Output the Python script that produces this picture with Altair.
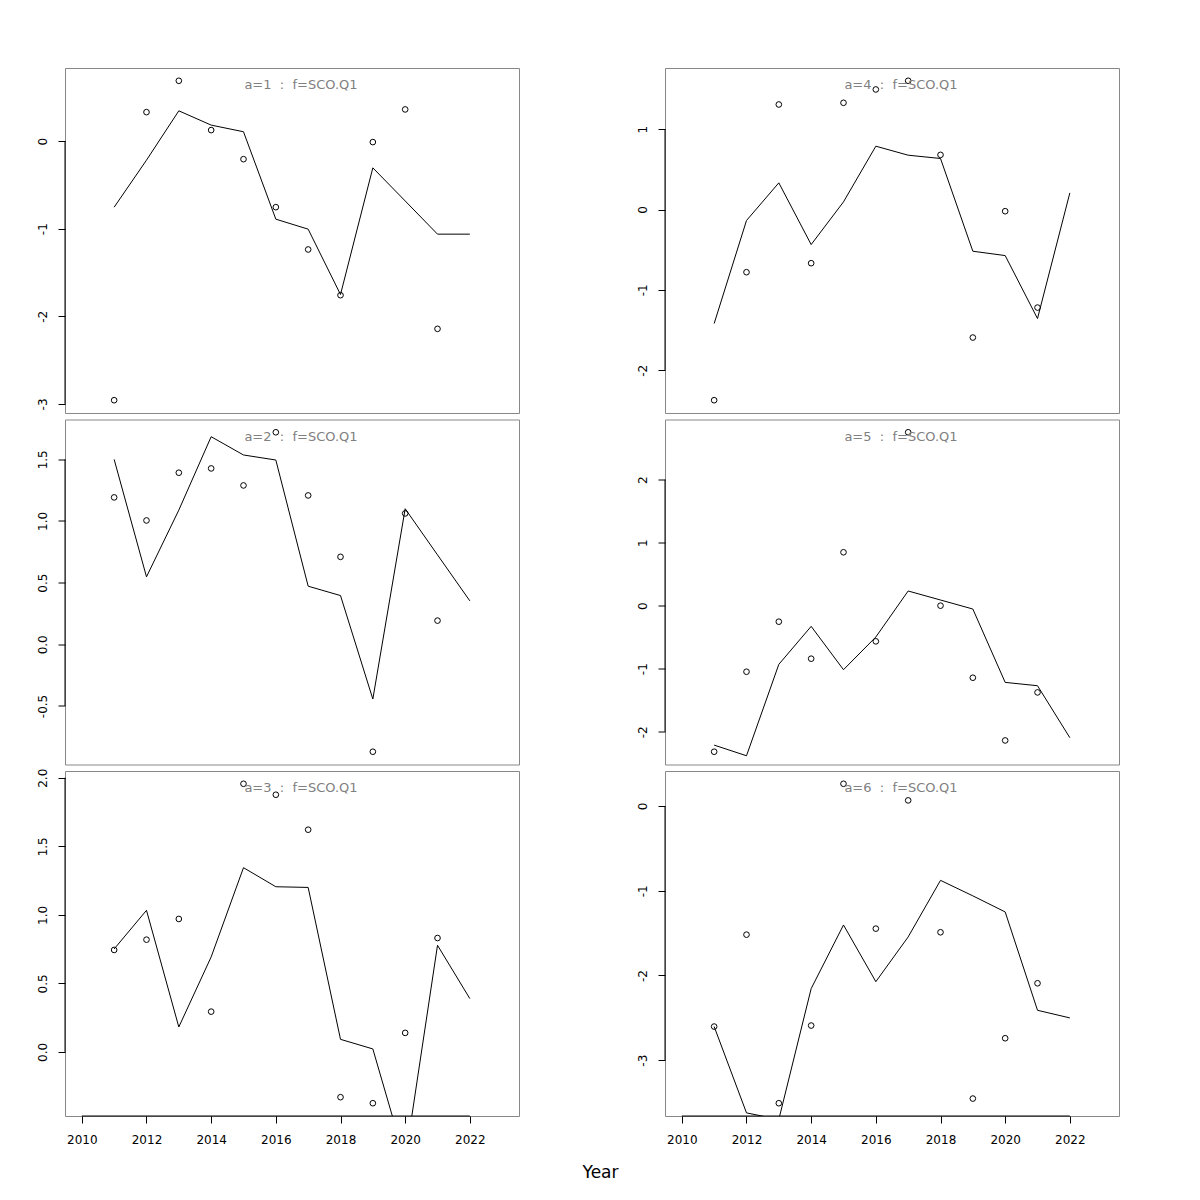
import altair as alt
import pandas as pd

# ---------------- data ----------------
years_obs = [2011, 2012, 2013, 2014, 2015, 2016, 2017, 2018, 2019, 2020, 2021]
years_fit = [2011, 2012, 2013, 2014, 2015, 2016, 2017, 2018, 2019, 2020, 2021, 2022]

obs_a1 = [-2.958, 0.331, 0.689, 0.126, -0.206, -0.754, -1.237, -1.759, -0.011, 0.362, -2.143]
fit_a1 = [-0.754, -0.217, 0.346, 0.183, 0.107, -0.891, -1.005, -1.751, -0.305, -0.683, -1.062, -1.062]

obs_a2 = [1.191, 1.004, 1.391, 1.426, 1.288, 1.719, 1.207, 0.709, -0.871, 1.061, 0.192]
fit_a2 = [1.499, 0.547, 1.088, 1.683, 1.535, 1.494, 0.471, 0.395, -0.444, 1.099, 0.725, 0.352]

obs_a3 = [0.744, 0.819, 0.970, 0.294, 1.956, 1.876, 1.621, -0.330, -0.374, 0.139, 0.831]
fit_a3 = [0.751, 1.033, 0.182, 0.693, 1.344, 1.205, 1.200, 0.092, 0.022, -0.790, 0.778, 0.389]

obs_a4 = [-2.373, -0.780, 1.307, -0.668, 1.328, 1.494, 1.602, 0.680, -1.593, -0.021, -1.220]
fit_a4 = [-1.419, -0.137, 0.332, -0.436, 0.095, 0.788, 0.676, 0.635, -0.519, -0.573, -1.357, 0.207]

obs_a5 = [-2.317, -1.048, -0.254, -0.841, 0.847, -0.566, 2.751, 0.000, -1.143, -2.138, -1.376]
fit_a5 = [-2.212, -2.381, -0.931, -0.328, -1.016, -0.497, 0.233, 0.090, -0.053, -1.217, -1.270, -2.095]

obs_a6 = [-2.603, -1.518, -3.508, -2.591, 0.263, -1.447, 0.067, -1.490, -3.453, -2.741, -2.092]
fit_a6 = [-2.603, -3.622, -3.700, -2.155, -1.404, -2.073, -1.545, -0.877, -1.060, -1.250, -2.411, -2.501]

ticks_a1 = [-3, -2, -1, 0]
ticks_a2 = [-0.5, 0.0, 0.5, 1.0, 1.5]
ticks_a3 = [0.0, 0.5, 1.0, 1.5, 2.0]
ticks_a4 = [-2, -1, 0, 1]
ticks_a5 = [-2, -1, 0, 1, 2]
ticks_a6 = [-3, -2, -1, 0]

x_ticks = [2010, 2012, 2014, 2016, 2018, 2020, 2022]
fleet = "SCO.Q1"
x_label = "Year"

# ---------------- layout / style ----------------
W, H = 454, 345
FONT = "DejaVu Sans"
XDOM = [2009.48, 2023.52]


def panel(a, obs, fit, ticks, decimals, bottom):
    lo, hi = min(obs), max(obs)
    ext = (hi - lo) * 0.04
    ydom = [lo - ext, hi + ext]
    fmt = ".1f" if decimals else "d"
    yscale = alt.Scale(domain=ydom, nice=False, zero=False)
    yaxis = alt.Axis(
        values=ticks, labelExpr=f"replace(format(datum.value, '{fmt}'), '\u2212', '-')",
        labelAngle=270, labelAlign="center", labelBaseline="bottom",
        labelPadding=9, tickSize=7, tickColor="black", labelColor="black",
        labelFont=FONT, labelFontSize=12, domain=False, grid=False, title=None,
        labelOverlap=False, labelFlush=False,
    )
    xscale = alt.Scale(domain=XDOM, nice=False, zero=False)
    if bottom:
        xaxis = alt.Axis(
            values=x_ticks, format="d", tickSize=7, tickColor="black", labelColor="black",
            labelPadding=11, labelFont=FONT, labelFontSize=12, domain=False, grid=False,
            title=None, labelOverlap=False, labelFlush=False,
        )
    else:
        xaxis = None

    df_obs = pd.DataFrame({"year": years_obs, "value": obs})
    df_fit = pd.DataFrame({"year": years_fit, "value": fit})
    one = pd.DataFrame({"label": [f"a={a}\u00a0\u00a0:\u00a0\u00a0f={fleet}"]})

    pts = alt.Chart(df_obs).mark_point(
        shape="circle", filled=False, color="black", size=32, strokeWidth=1, opacity=1
    ).encode(
        x=alt.X("year:Q", scale=xscale, axis=xaxis),
        y=alt.Y("value:Q", scale=yscale, axis=yaxis),
    )
    line = alt.Chart(df_fit).mark_line(color="black", strokeWidth=1, clip=True).encode(
        x=alt.X("year:Q", scale=xscale, axis=xaxis),
        y=alt.Y("value:Q", scale=yscale, axis=yaxis),
    )
    txt = alt.Chart(one).mark_text(
        font=FONT, fontSize=13, color="#808080", align="center", baseline="alphabetic"
    ).encode(x=alt.value(236), y=alt.value(21), text="label:N")
    yline = alt.Chart(one).mark_rule(color="black", strokeWidth=1).encode(
        x=alt.value(0),
        y=alt.YDatum(ticks[0], scale=yscale, axis=yaxis),
        y2=alt.Y2Datum(ticks[-1]),
    )
    layers = [pts, line, yline, txt]
    if bottom:
        xline = alt.Chart(one).mark_rule(color="black", strokeWidth=1).encode(
            x=alt.XDatum(x_ticks[0], scale=xscale, axis=xaxis),
            x2=alt.X2Datum(x_ticks[-1]),
            y=alt.value(H),
        )
        layers.append(xline)
    return alt.layer(*layers).properties(width=W, height=H)


left = alt.vconcat(
    panel(1, obs_a1, fit_a1, ticks_a1, False, False),
    panel(2, obs_a2, fit_a2, ticks_a2, True, False),
    panel(3, obs_a3, fit_a3, ticks_a3, True, True),
    spacing=6.5, bounds="flush",
)
right = alt.vconcat(
    panel(4, obs_a4, fit_a4, ticks_a4, False, False),
    panel(5, obs_a5, fit_a5, ticks_a5, False, False),
    panel(6, obs_a6, fit_a6, ticks_a6, False, True),
    spacing=6.5, bounds="flush",
)

chart = alt.hconcat(left, right, spacing=115).properties(
    title=alt.TitleParams(
        x_label, orient="bottom", anchor="middle", font=FONT, fontSize=17,
        fontWeight="normal", color="black", offset=19, dx=23,
    ),
    padding={"left": 27, "top": 59, "right": 10, "bottom": 10},
).configure(
    font=FONT,
    view=alt.ViewConfig(stroke="#888888", strokeWidth=1),
)

chart.save("out.html", embed_options={"renderer": "svg", "actions": False})
